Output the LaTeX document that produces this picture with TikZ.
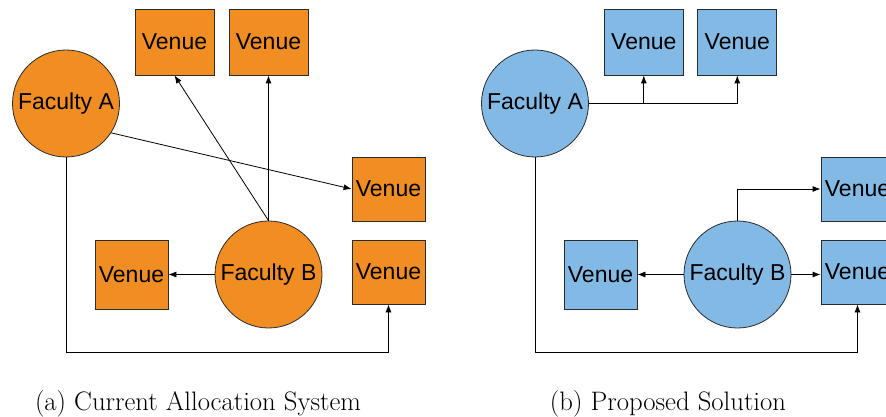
\documentclass[tikz,border=0pt]{standalone}
\usepackage{fontspec}
\newfontfamily\labelfont{Liberation Sans}
\usetikzlibrary{arrows.meta, positioning, calc}
\definecolor{current}{HTML}{F08D23}
\definecolor{proposed}{HTML}{83B9E5}
\definecolor{edge}{HTML}{2B2B2B}

\begin{document}
\begin{tikzpicture}[x=1pt, y=-1pt,
  faculty/.style={circle, draw=edge, line width=0.8pt, inner sep=0pt, minimum size=107pt,
    font=\labelfont\fontsize{23}{27}\selectfont},
  venue/.style={rectangle, draw=edge, line width=0.8pt, inner sep=0pt, minimum width=73pt,
    minimum height=64pt, font=\labelfont\fontsize{23}{27}\selectfont},
  wide/.style={minimum width=79pt, minimum height=66pt},
  link/.style={-{Latex[length=8pt, width=6pt]}, line width=0.8pt, black},
  caption/.style={anchor=base, font=\fontsize{26.7}{32}\selectfont}]
\clip (0,0) rectangle (886,417);

% (a) current allocation
\node[faculty, fill=current] (fa) at (66,103.5) {Faculty A};
\node[faculty, fill=current] (fb) at (268.5,274.5) {Faculty B};
\node[venue, wide, fill=current] (va1) at (174.5,42) {Venue};
\node[venue, wide, fill=current] (va2) at (268.5,42) {Venue};
\node[venue, fill=current] (va3) at (388.5,189) {Venue};
\node[venue, fill=current] (va4) at (388.5,272) {Venue};
\node[venue, fill=current, minimum height=69pt] (va5) at (131.5,274.5) {Venue};

\draw[link] (fb.north) -- (va1.south);
\draw[link] (fb.north) -- (va2.south);
\draw[link] (fa.-33) -- (va3.west);
\draw[link] (fa.south) -- ++(0,195) -| (va4.south);
\draw[link] (fb.west) -- (va5.east);

\node[caption] (capa) at (198,410) {(a) Current Allocation System};

% (b) proposed solution
\node[faculty, fill=proposed] (pa) at (535,103.5) {Faculty A};
\node[faculty, fill=proposed] (pb) at (737.5,274.5) {Faculty B};
\node[venue, wide, fill=proposed] (vb1) at (643.8,42) {Venue};
\node[venue, wide, fill=proposed] (vb2) at (737.3,42) {Venue};
\node[venue, fill=proposed] (vb3) at (857.5,189) {Venue};
\node[venue, fill=proposed] (vb4) at (857.5,272) {Venue};
\node[venue, fill=proposed, minimum height=69pt] (vb5) at (600.5,274.5) {Venue};

\draw[link] (pa.east) -| (vb2.south);
\draw[link] (pa.east -| vb1.south) -- (vb1.south);
\draw[link] (pb.north) |- (vb3.west);
\draw[link] (pb.east) -- (pb.east -| vb4.west);
\draw[link] (pb.west) -- (vb5.east);
\draw[link] (pa.south) -- ++(0,195) -| (vb4.south);

\node[caption] (capb) at (668,410) {(b) Proposed Solution};
\end{tikzpicture}
\end{document}
